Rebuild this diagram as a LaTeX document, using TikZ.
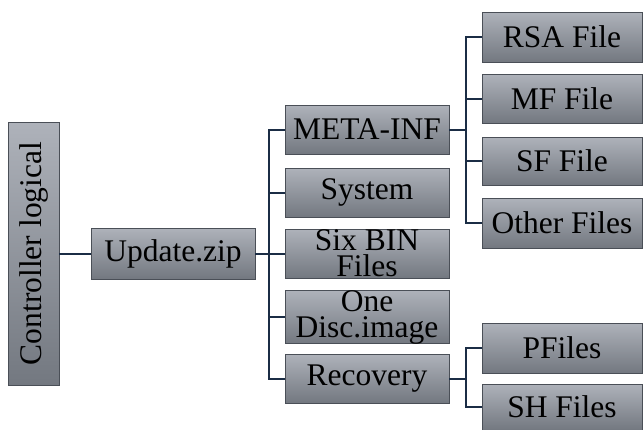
\documentclass[tikz,border=0pt]{standalone}
\usepackage{fontspec}
\setmainfont{Liberation Serif}
\definecolor{boxtop}{HTML}{AEB2BA}
\definecolor{boxbot}{HTML}{737880}
\definecolor{boxedge}{HTML}{4A4F57}
\definecolor{linkc}{HTML}{1B2D45}
\begin{document}
\begin{tikzpicture}[x=1pt,y=-1pt,
  box/.style={draw=boxedge, line width=0.8pt, top color=boxtop, bottom color=boxbot,
    inner sep=0pt, align=center, font=\fontsize{31.5}{26}\selectfont, text=black},
  link/.style={draw=linkc, line width=2pt}]
\useasboundingbox (0,0) rectangle (643,429);
% level 0
\node[box, minimum width=263pt, minimum height=51pt, rotate=90] (ctrl) at (33.5,253.5) {Controller logical};
% level 1
\node[box, minimum width=164pt, minimum height=51pt] (upd) at (173,253.5) {Update.zip};
% level 2
\node[box, minimum width=164pt, minimum height=49pt] (meta) at (367,129.5) {META-INF};
\node[box, minimum width=164pt, minimum height=49pt] (sys) at (367,192.5) {System};
\node[box, minimum width=164pt, minimum height=49pt] (six) at (367,253.5) {Six BIN\\Files};
\node[box, minimum width=164pt, minimum height=50pt] (one) at (367,317) {One\\Disc.image};
\node[box, minimum width=164pt, minimum height=49pt] (rec) at (367,378.5) {Recovery};
% level 3
\node[box, minimum width=160pt, minimum height=50pt] (rsa) at (562,37) {RSA File};
\node[box, minimum width=160pt, minimum height=49pt] (mf) at (562,98.5) {MF File};
\node[box, minimum width=160pt, minimum height=48pt] (sf) at (562,161) {SF File};
\node[box, minimum width=160pt, minimum height=50pt] (oth) at (562,223) {Other Files};
\node[box, minimum width=160pt, minimum height=50pt] (pf) at (562,348) {PFiles};
\node[box, minimum width=160pt, minimum height=46pt] (sh) at (562,407) {SH Files};
% connectors
\draw[link] (ctrl) -- (upd);
\foreach \t in {meta,sys,six,one,rec} \draw[link] (upd.east) -- ++(14,0) |- (\t.west);
\foreach \t in {rsa,mf,sf,oth} \draw[link] (meta.east) -- ++(17,0) |- (\t.west);
\foreach \t in {pf,sh} \draw[link] (rec.east) -- ++(17,0) |- (\t.west);
\end{tikzpicture}
\end{document}
